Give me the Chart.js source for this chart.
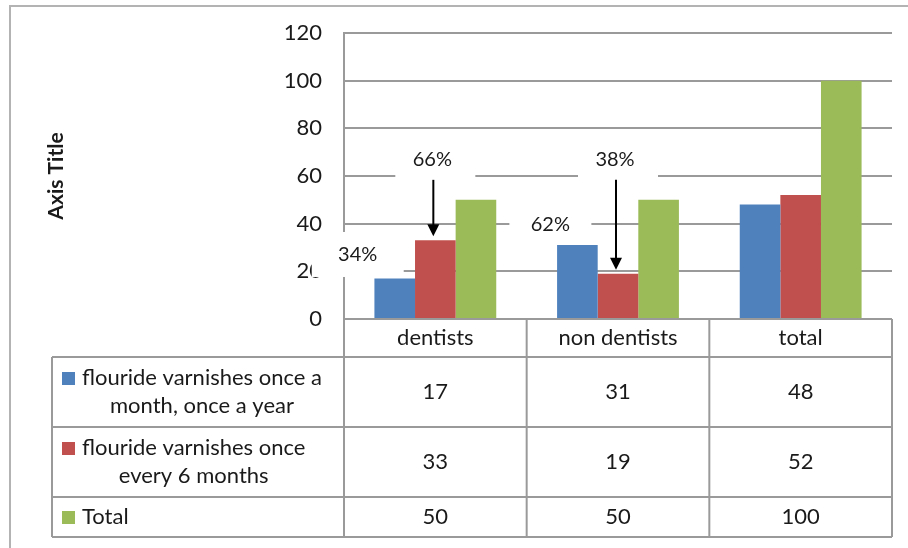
<!DOCTYPE html>
<html>
<head>
<meta charset="utf-8">
<title>Flouride varnish frequency</title>
<script src="https://cdn.jsdelivr.net/npm/chart.js@4.4.1/dist/chart.umd.min.js"></script>
<style>
  html, body { margin: 0; padding: 0; background: #fff; }
  #wrap { width: 908px; height: 548px; }
</style>
</head>
<body>
<div id="wrap"><canvas id="varnishChart"></canvas></div>
<script>
/* ==========================================
   DATA
========================================== */

const categories = ["dentists", "non dentists", "total"];

const seriesNames = [
  "flouride varnishes once a month, once a year",
  "flouride varnishes once every 6 months",
  "Total"
];

const onceAYear = [17, 31, 48];
const everySixMonths = [33, 19, 52];
const totals = [50, 50, 100];

const yTicks = [0, 20, 40, 60, 80, 100, 120];

const seriesColors = ["#4F81BD", "#C0504D", "#9BBB59"];

/* ==========================================
   STYLE
========================================== */

const FONT = "Lato, 'DejaVu Sans', sans-serif";
const TEXT = "#1a1a1a";
const LINE = "#9a9a9a";

/* percentage callouts: share of the group total */
const callouts = [
  { series: 0, index: 0, dx: -37, dy: -24, w: 92, h: 45 },
  { series: 1, index: 0, arrow: true },
  { series: 0, index: 1, dx: -27, dy: -21, w: 82, h: 42 },
  { series: 1, index: 1, arrow: true }
];

const seriesValues = [onceAYear, everySixMonths, totals];

function pct(series, index) {
  return Math.round(seriesValues[series][index] / totals[index] * 100) + "%";
}

/* resolve where each callout sits, from the bar it belongs to */
function calloutGeometry(chart, c) {
  const bar = chart.getDatasetMeta(c.series).data[c.index];
  if (c.arrow) {
    const y = chart.scales.y.getPixelForValue(totals[c.index]) - 40;
    return { tx: bar.x - 3, ty: y, bx: bar.x - 40, by: y - 22, w: 80, h: 45, bar };
  }
  const tx = bar.x + c.dx;
  const ty = bar.y + c.dy;
  return { tx, ty, bx: tx - c.w / 2, by: ty - c.h / 2, w: c.w, h: c.h, bar };
}

/* simple word wrap for the table legend cells */
function wrapText(ctx, text, maxWidth) {
  const words = text.split(" ");
  const lines = [];
  let line = "";
  words.forEach((w) => {
    const test = line ? line + " " + w : w;
    if (ctx.measureText(test).width > maxWidth && line) {
      lines.push(line);
      line = w;
    } else {
      line = test;
    }
  });
  lines.push(line);
  return lines;
}

function hLine(ctx, x1, x2, y) {
  ctx.beginPath();
  ctx.moveTo(x1, y);
  ctx.lineTo(x2, y);
  ctx.stroke();
}

function vLine(ctx, x, y1, y2) {
  ctx.beginPath();
  ctx.moveTo(x, y1);
  ctx.lineTo(x, y2);
  ctx.stroke();
}

/* ==========================================
   PLUGIN: CALLOUTS, DATA TABLE, FRAME
========================================== */

const excelExtras = {
  id: "excelExtras",

  /* white label backgrounds sit over grid lines but under bars */
  beforeDatasetsDraw(chart) {
    const ctx = chart.ctx;
    ctx.save();
    ctx.fillStyle = "#fff";
    callouts.forEach((c) => {
      const g = calloutGeometry(chart, c);
      ctx.fillRect(g.bx, g.by, g.w, g.h);
    });
    ctx.restore();
  },

  afterDatasetsDraw(chart) {
    const ctx = chart.ctx;
    ctx.save();
    ctx.font = "20px " + FONT;
    ctx.fillStyle = TEXT;
    ctx.textAlign = "center";
    ctx.textBaseline = "middle";

    callouts.forEach((c) => {
      const g = calloutGeometry(chart, c);
      ctx.fillStyle = TEXT;
      ctx.fillText(pct(c.series, c.index), g.tx, g.ty);

      if (c.arrow) {
        const x = g.bar.x - 2;
        const y1 = g.ty + 20;
        const tip = g.bar.y - 4;
        ctx.strokeStyle = "#000";
        ctx.lineWidth = 2;
        vLine(ctx, x, y1, tip - 10);
        ctx.fillStyle = "#000";
        ctx.beginPath();
        ctx.moveTo(x - 6, tip - 12);
        ctx.lineTo(x + 6, tip - 12);
        ctx.lineTo(x, tip);
        ctx.closePath();
        ctx.fill();
      }
    });
    ctx.restore();
  },

  afterDraw(chart) {
    const ctx = chart.ctx;
    const area = chart.chartArea;
    const xScale = chart.scales.x;
    const catW = area.width / categories.length;

    const edges = categories.map((_, i) => xScale.getPixelForValue(i) - catW / 2);
    edges.push(area.right);

    const tableLeft = 52;
    const headerBottom = area.bottom + 38;
    const lineH = 28;

    ctx.save();
    ctx.font = "22px " + FONT;

    /* legend cell text, wrapped */
    const keyX = 62;
    const textX = 82;
    const rows = seriesNames.map((name) => {
      const lines = wrapText(ctx, name, area.left - textX - 4);
      return { lines, h: lines.length === 1 ? 40 : 70 };
    });

    let y = headerBottom;
    rows.forEach((r) => {
      r.top = y;
      y += r.h;
    });
    const tableBottom = y;

    /* grid of the table */
    ctx.strokeStyle = LINE;
    ctx.lineWidth = 2;
    edges.forEach((ex) => vLine(ctx, ex, area.bottom, tableBottom));
    vLine(ctx, tableLeft, headerBottom, tableBottom);
    hLine(ctx, tableLeft, area.right, headerBottom);
    rows.forEach((r) => hLine(ctx, tableLeft, area.right, r.top + r.h));

    ctx.fillStyle = TEXT;
    ctx.textBaseline = "middle";
    ctx.textAlign = "center";

    /* category header */
    categories.forEach((cat, i) => {
      ctx.fillText(cat, xScale.getPixelForValue(i), (area.bottom + headerBottom) / 2);
    });

    rows.forEach((r, s) => {
      const mid = r.top + r.h / 2;
      const firstY = mid - (r.lines.length - 1) * lineH / 2;
      const blockW = Math.max(...r.lines.map((l) => ctx.measureText(l).width));

      ctx.fillStyle = seriesColors[s];
      ctx.fillRect(keyX, firstY - 6, 13, 13);

      ctx.fillStyle = TEXT;
      r.lines.forEach((l, k) => {
        ctx.textAlign = r.lines.length === 1 ? "left" : "center";
        const lx = r.lines.length === 1 ? textX : textX + blockW / 2;
        ctx.fillText(l, lx, firstY + k * lineH);
      });

      ctx.textAlign = "center";
      seriesValues[s].forEach((v, i) => {
        ctx.fillText(String(v), xScale.getPixelForValue(i), mid);
      });
    });

    /* outer chart frame */
    ctx.strokeStyle = "#b3b3b3";
    ctx.lineWidth = 2;
    hLine(ctx, 9, chart.width, 6);
    vLine(ctx, 10, 5, chart.height);

    ctx.restore();
  }
};

/* ==========================================
   CHART
========================================== */

new Chart(
  document.getElementById("varnishChart"),
  {
    type: "bar",

    data: {
      labels: categories,
      datasets: seriesNames.map((name, s) => ({
        label: name,
        data: seriesValues[s],
        backgroundColor: seriesColors[s],
        borderWidth: 0
      }))
    },

    options: {
      responsive: true,
      maintainAspectRatio: false,
      animation: false,

      categoryPercentage: 0.667,
      barPercentage: 1,

      layout: {
        padding: { top: 33, right: 16, bottom: 229, left: 0 }
      },

      plugins: {
        legend: { display: false },
        tooltip: { enabled: false }
      },

      scales: {
        x: {
          display: false
        },
        y: {
          min: yTicks[0],
          max: yTicks[yTicks.length - 1],
          /* fixed axis width; tick padding should not push the plot down */
          afterFit: (scale) => {
            scale.width = 344;
            scale.paddingTop = 12;
            scale.paddingBottom = 12;
          },
          ticks: {
            stepSize: yTicks[1] - yTicks[0],
            padding: 22,
            color: TEXT,
            font: { family: FONT, size: 22 }
          },
          grid: {
            color: LINE,
            lineWidth: 2,
            drawTicks: false
          },
          border: {
            color: LINE,
            width: 2
          },
          title: {
            display: true,
            text: "Axis Title",
            color: TEXT,
            padding: { top: 44, bottom: 0 },
            font: { family: FONT, size: 21, weight: "bold" }
          }
        }
      }
    },

    plugins: [excelExtras]
  }
);
</script>
</body>
</html>
